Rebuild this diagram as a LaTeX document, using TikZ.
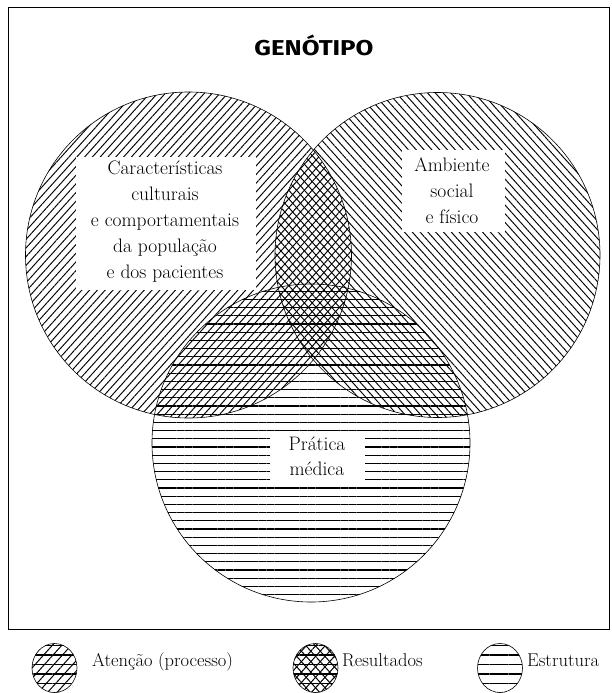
\documentclass[tikz,border=0pt]{standalone}
\usepackage{fontspec}
\usepackage{graphicx}
\newfontfamily\genfont{Fira Sans}[FakeStretch=1.2]
\usetikzlibrary{patterns.meta}
\tikzset{
  hatchL/.style={pattern={Lines[angle=48,distance=5.8pt,line width=0.95pt]}},
  hatchR/.style={pattern={Lines[angle=-48,distance=5.8pt,line width=0.95pt]}},
  hatchH/.style={pattern={Lines[angle=0,distance=8.2pt,line width=1.05pt]}},
  iconL/.style={pattern={Lines[angle=48,distance=7pt,line width=1pt]}},
  iconR/.style={pattern={Lines[angle=-48,distance=7pt,line width=1pt]}},
  iconH/.style={pattern={Lines[angle=0,distance=9.5pt,line width=1.1pt]}},
  rim/.style={draw=black, line width=0.6pt},
  labelbox/.style={fill=white, draw=none, inner sep=0pt},
  lbl/.style={align=center, inner sep=0pt, font=\fontsize{19.5}{26}\selectfont},
  legtext/.style={anchor=base west, inner sep=0pt, font=\fontsize{18.5}{20}\selectfont},
}
\begin{document}
\begin{tikzpicture}[x=1pt,y=-1pt]
\useasboundingbox (0,0) rectangle (612,693);
\fill[white] (0,0) rectangle (612,693);
% frame
\draw[line width=0.9pt] (8,7) rectangle (609,629);
% title
\node (gen) at (314,45) {\genfont\bfseries\fontsize{21.5}{21.5}\selectfont GENÓTIPO};
% circle centres
\coordinate (cL) at (188.5,255);
\coordinate (cR) at (437.5,255);
\coordinate (cB) at (311,443);
% hatching
\fill[hatchL] (cL) circle (163);
\fill[hatchR] (cR) circle (162.5);
\fill[hatchH] (cB) circle (159);
% white label boxes
\node[labelbox, minimum width=180pt, minimum height=133pt] (bL) at (166,223.5) {};
\node[labelbox, minimum width=103pt, minimum height=82pt] (bR) at (453.5,191) {};
\node[labelbox, minimum width=95pt, minimum height=52pt] (bB) at (317.5,460) {};
% outlines
\draw[rim] (cL) circle (163);
\draw[rim] (cR) circle (162.5);
\draw[rim] (cB) circle (159);
% labels
\node[lbl] (tL) at (165,222) {Características\\culturais\\e comportamentais\\da população\\e dos pacientes};
\node[lbl] (tR) at (452,191) {Ambiente\\social\\e físico};
\node[lbl, font=\fontsize{19.5}{25}\selectfont] (tB) at (317,456) {Prática\\médica};
% legend
\coordinate (k1) at (54.5,668);
\coordinate (k2) at (315.5,668);
\coordinate (k3) at (500,668);
\fill[iconL] (k1) ellipse [x radius=22.5, y radius=24.5];
\fill[iconH] (k1) ellipse [x radius=22.5, y radius=24.5];
\draw[rim] (k1) ellipse [x radius=22.5, y radius=24.5];
\fill[iconL] (k2) ellipse [x radius=22.5, y radius=24.5];
\fill[iconR] (k2) ellipse [x radius=22.5, y radius=24.5];
\fill[iconH] (k2) ellipse [x radius=22.5, y radius=24.5];
\draw[rim] (k2) ellipse [x radius=22.5, y radius=24.5];
\fill[iconH] (k3) ellipse [x radius=22.5, y radius=24.5];
\draw[rim] (k3) ellipse [x radius=22.5, y radius=24.5];
\node[legtext] (l1) at (92,666) {Atenção (processo)};
\node[legtext] (l2) at (342,666) {Resultados};
\node[legtext] (l3) at (527,666) {Estrutura};
\end{tikzpicture}
\end{document}
